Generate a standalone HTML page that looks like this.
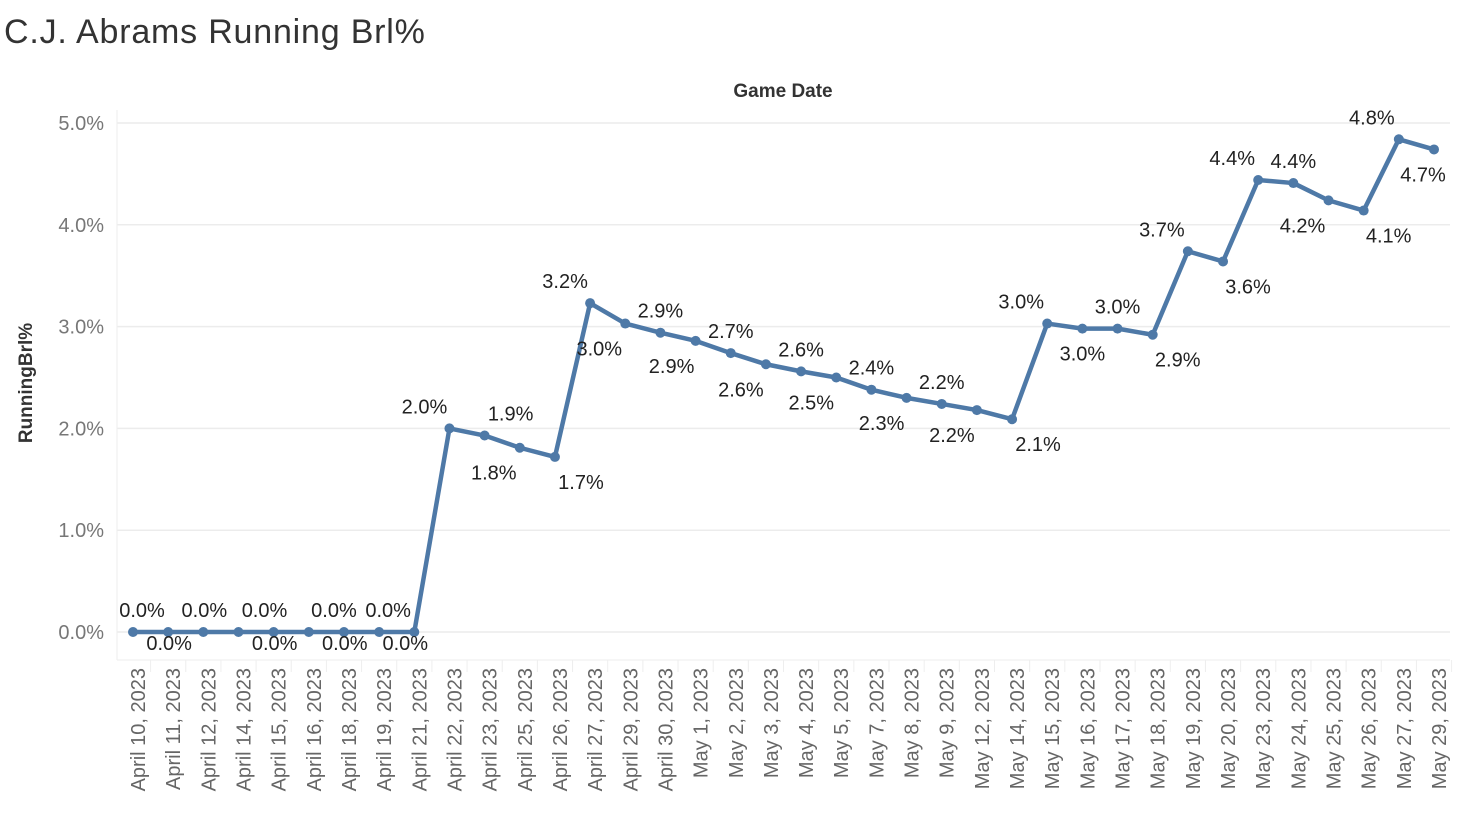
<!DOCTYPE html>
<html><head><meta charset="utf-8"><style>
body{margin:0;background:#fff;width:1478px;height:834px;overflow:hidden;font-family:"Liberation Sans","DejaVu Sans",sans-serif}
</style></head><body>
<svg id="chart" width="1478" height="834" xmlns="http://www.w3.org/2000/svg">
<text x="4" y="43" font-size="34" letter-spacing="0.8" fill="#333" font-family="Liberation Sans, sans-serif">C.J. Abrams Running Brl%</text>
<text x="783" y="97" font-size="19" font-weight="bold" fill="#333" text-anchor="middle">Game Date</text>
<text transform="translate(32,383) rotate(-90)" font-size="19" font-weight="bold" fill="#333" text-anchor="middle">RunningBrl%</text>
<g id="grid"></g><g id="axes"></g><g id="marks"></g><g id="labels"></g>
</svg>
<script>
const categories=["April 10, 2023","April 11, 2023","April 12, 2023","April 14, 2023","April 15, 2023","April 16, 2023","April 18, 2023","April 19, 2023","April 21, 2023","April 22, 2023","April 23, 2023","April 25, 2023","April 26, 2023","April 27, 2023","April 29, 2023","April 30, 2023","May 1, 2023","May 2, 2023","May 3, 2023","May 4, 2023","May 5, 2023","May 7, 2023","May 8, 2023","May 9, 2023","May 12, 2023","May 14, 2023","May 15, 2023","May 16, 2023","May 17, 2023","May 18, 2023","May 19, 2023","May 20, 2023","May 23, 2023","May 24, 2023","May 25, 2023","May 26, 2023","May 27, 2023","May 29, 2023"];
const values=[0,0,0,0,0,0,0,0,0,2.0,1.93,1.81,1.72,3.23,3.03,2.94,2.86,2.74,2.63,2.56,2.50,2.38,2.30,2.24,2.18,2.09,3.03,2.98,2.98,2.92,3.74,3.64,4.44,4.41,4.24,4.14,4.84,4.74];
const labelSide=["a","c","a","a","c","c","a","a","c","a","a","b","b","a","b","a","b","a","b","a","b","a","b","a","b","b","a","b","a","b","a","b","a","a","b","b","a","b"];
const labelShift=[9,1,1,26,1,36,-10,9,-9,-25,26,-26,26,-25,-26,0,-24,0,-25,0,-25,0,-25,0,-25,26,-26,0,0,25,-26,25,-26,0,-26,25,-27,-11];
const yTicks=[0,1,2,3,4,5];
const ns="http://www.w3.org/2000/svg";
const x0=133,x1=1434,yBase=632,yTop=123;
const xs=i=>x0+(x1-x0)*i/(categories.length-1);
const ys=v=>yBase-(yBase-yTop)*v/5;
function mk(tag,attrs,parent){const e=document.createElementNS(ns,tag);for(const k in attrs)e.setAttribute(k,attrs[k]);document.getElementById(parent).appendChild(e);return e;}
yTicks.forEach(t=>{
 const g=mk("line",{x1:117,x2:1450,y1:ys(t),y2:ys(t),stroke:"#ececec","stroke-width":1.5},"grid");
 
 
 const tx=mk("text",{x:104,y:ys(t)+7,"font-size":20,fill:"#777","text-anchor":"end"},"axes");
 tx.textContent=t.toFixed(1)+"%";
 
 
});
mk("line",{x1:117,x2:117,y1:110,y2:660,stroke:"#eee","stroke-width":1},"grid");
mk("line",{x1:117,x2:1450,y1:660,y2:660,stroke:"#eee","stroke-width":1},"grid");
categories.forEach((c,i)=>{
 const sep=mk("line",{x1:xs(i)+17.6,x2:xs(i)+17.6,y1:660,y2:672,stroke:"#eee"},"grid");
 
 
 const t=mk("text",{transform:`translate(${xs(i)+12},668) rotate(-90)`,"font-size":20,fill:"#666","text-anchor":"end"},"axes");
 t.textContent=c;
 
 
});
const pl=mk("polyline",{points:values.map((v,i)=>xs(i)+","+ys(v)).join(" "),fill:"none",stroke:"#4e79a7","stroke-width":4.5,"stroke-linejoin":"round"},"marks");


values.forEach((v,i)=>{
 const c=mk("circle",{cx:xs(i),cy:ys(v),r:5,fill:"#4e79a7"},"marks");
 
 
 const s=labelSide[i];
 const dy=s==="a"?-15:(s==="c"?18:32);
 const t=mk("text",{x:xs(i)+labelShift[i],y:ys(v)+dy,"font-size":20,fill:"#222","text-anchor":"middle"},"labels");
 t.textContent=v.toFixed(1)+"%";
 
 
});
</script>
</body></html>
